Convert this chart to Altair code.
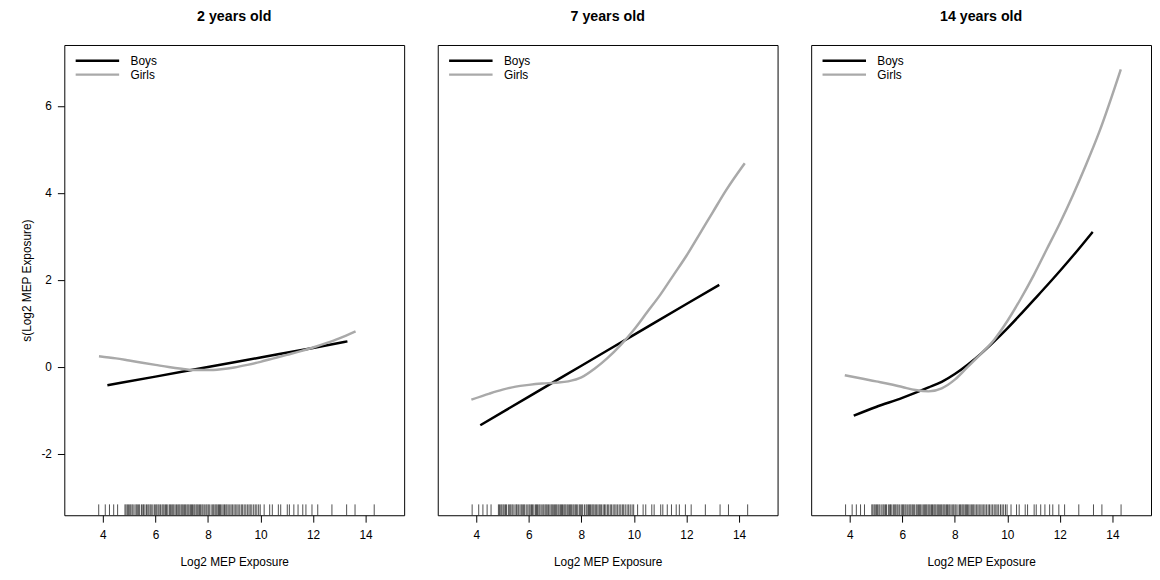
import altair as alt
import pandas as pd

panels = ["2 years old", "7 years old", "14 years old"]
sexes = ["Boys", "Girls"]

# Panel 1 (2 years old)
boys_x_p1 = [4.17, 6.0, 8.0, 10.0, 12.0, 13.31]
boys_y_p1 = [-0.43, -0.23, -0.01, 0.21, 0.43, 0.58]
girls_x_p1 = [3.85, 4.5, 5.0, 5.5, 6.0, 6.5, 7.0, 7.5, 8.0, 8.5, 9.0, 9.5, 10.0,
              10.5, 11.0, 11.5, 12.0, 12.5, 13.0, 13.62]
girls_y_p1 = [0.24, 0.19, 0.14, 0.09, 0.04, -0.01, -0.05, -0.08, -0.08, -0.06,
              -0.02, 0.04, 0.11, 0.19, 0.27, 0.35, 0.44, 0.54, 0.65, 0.81]

# Panel 2 (7 years old)
boys_x_p2 = [4.15, 6.0, 8.0, 10.0, 12.0, 13.25]
boys_y_p2 = [-1.35, -0.69, 0.02, 0.73, 1.44, 1.88]
girls_x_p2 = [3.81, 4.5, 5.0, 5.5, 6.0, 6.5, 7.0, 7.5, 8.0, 8.5, 9.0, 9.5, 10.0,
              10.5, 11.0, 11.5, 12.0, 12.5, 13.0, 13.5, 14.22]
girls_y_p2 = [-0.76, -0.62, -0.53, -0.46, -0.42, -0.39, -0.37, -0.34, -0.25,
              -0.05, 0.2, 0.5, 0.85, 1.25, 1.65, 2.1, 2.55, 3.05, 3.55, 4.05, 4.68]

# Panel 3 (14 years old)
boys_x_p3 = [4.15, 5.0, 6.0, 7.0, 7.5, 8.0, 8.5, 9.0, 9.5, 10.0, 10.5, 11.0,
             11.5, 12.0, 12.5, 13.25]
boys_y_p3 = [-1.13, -0.93, -0.72, -0.48, -0.35, -0.17, 0.05, 0.3, 0.58, 0.88,
             1.2, 1.53, 1.86, 2.2, 2.55, 3.1]
girls_x_p3 = [3.81, 4.5, 5.0, 5.5, 6.0, 6.5, 7.0, 7.5, 8.0, 8.5, 9.0, 9.5, 10.0,
              10.5, 11.0, 11.5, 12.0, 12.5, 13.0, 13.5, 14.32]
girls_y_p3 = [-0.2, -0.28, -0.34, -0.4, -0.47, -0.54, -0.57, -0.5, -0.3, 0.0,
              0.3, 0.62, 1.05, 1.55, 2.1, 2.7, 3.3, 3.95, 4.65, 5.4, 6.84]

# Rug of observed exposure values
rug_values = [3.84, 4.09, 4.25, 4.41, 4.56,
              4.84, 4.88, 4.93, 4.97, 5.02, 5.06, 5.11, 5.15, 5.22, 5.27, 5.31,
              5.36, 5.40, 5.47, 5.52, 5.55, 5.60, 5.66, 5.71, 5.75, 5.80, 5.84,
              5.90, 5.96, 6.01, 6.05, 6.10, 6.14, 6.19, 6.25, 6.29, 6.33, 6.38,
              6.42, 6.47, 6.53, 6.57, 6.62, 6.66, 6.70, 6.75, 6.80, 6.85, 6.89,
              6.93, 6.98, 7.02, 7.06, 7.11, 7.15, 7.20, 7.24, 7.28, 7.33, 7.37,
              7.41, 7.46, 7.50, 7.55, 7.59, 7.63, 7.68, 7.72, 7.77, 7.81, 7.86,
              7.92, 7.96, 8.01, 8.05, 8.12, 8.18, 8.22, 8.27, 8.31, 8.35, 8.40,
              8.44, 8.48, 8.53, 8.58, 8.63, 8.68, 8.72, 8.77, 8.83, 8.88, 8.93,
              8.99, 9.04, 9.10, 9.15, 9.21, 9.27, 9.32, 9.38, 9.44, 9.50, 9.56,
              9.61, 9.67, 9.74, 9.80, 9.86, 9.93, 9.99,
              10.14, 10.35, 10.45, 10.68, 10.77, 11.02, 11.1, 11.27, 11.43,
              11.61, 11.73, 11.96, 12.18, 12.72, 13.28, 13.60, 14.33]

x_ticks = [4, 6, 8, 10, 12, 14]
y_ticks = [-2, 0, 2, 4, 6]

series = {
    panels[0]: [(boys_x_p1, boys_y_p1), (girls_x_p1, girls_y_p1)],
    panels[1]: [(boys_x_p2, boys_y_p2), (girls_x_p2, girls_y_p2)],
    panels[2]: [(boys_x_p3, boys_y_p3), (girls_x_p3, girls_y_p3)],
}

rows = []
for p, pairs in series.items():
    for sex, (xs, ys) in zip(sexes, pairs):
        for xv, yv in zip(xs, ys):
            rows.append({"panel": p, "sex": sex, "x": xv, "y": yv})
df = pd.DataFrame(rows)
rug_df = pd.DataFrame({"x": rug_values})

W, H = 344, 476
FONT = "Liberation Sans"

x_scale = alt.Scale(domain=[2.53, 15.47], nice=False, zero=False)
y_scale = alt.Scale(domain=[-3.42, 7.40], nice=False, zero=False)
x_axis = alt.Axis(values=x_ticks, title="Log2 MEP Exposure", tickSize=7,
                  labelPadding=8, titlePadding=16, grid=False, domain=False,
                  tickColor="#000000", labelColor="#000000", titleColor="#000000",
                  labelFont=FONT, titleFont=FONT, labelFontSize=12,
                  titleFontSize=12, titleFontWeight="normal")
y_axis = alt.Axis(values=y_ticks, title="s(Log2 MEP Exposure)", tickSize=7,
                  labelPadding=6, titlePadding=8, labelAngle=0, grid=False,
                  labelExpr="datum.value + ''",
                  domain=False, tickColor="#000000", labelColor="#000000",
                  titleColor="#000000", labelFont=FONT, titleFont=FONT,
                  labelFontSize=12, titleFontSize=12, titleFontWeight="normal")

# wide horizontal stroke symbol: path spans 8 units -> 4 * sqrt(size) px
color = alt.Color(
    "sex:N",
    scale=alt.Scale(domain=sexes, range=["#000000", "#A9A9A9"]),
    legend=alt.Legend(
        title=None, orient="none", legendX=26.5, legendY=9,
        symbolType="M-4,0H4", symbolSize=121, symbolStrokeWidth=2.5,
        labelFontSize=12, labelFont=FONT, labelColor="#000000",
        labelOffset=26.5, rowPadding=1, padding=0,
    ),
)


def make_panel(i):
    p = panels[i]
    xenc = alt.X("x:Q", scale=x_scale, axis=x_axis)
    rug = alt.Chart(rug_df).mark_rule(color="#222222", strokeWidth=0.8).encode(
        x=xenc, y=alt.value(H - 11), y2=alt.value(H)
    )
    lines = alt.Chart(df[df.panel == p]).mark_line(
        strokeWidth=2.5, interpolate="monotone"
    ).encode(
        x=xenc,
        y=alt.Y("y:Q", scale=y_scale, axis=y_axis if i == 0 else None),
        color=color,
        order=alt.Order("x:Q"),
    )
    return alt.layer(rug, lines).properties(
        width=W, height=H,
        title=alt.Title(p, fontSize=14.4, fontWeight="bold", font=FONT,
                        anchor="middle", offset=21, color="#000000"),
    )


chart = alt.hconcat(
    make_panel(0), make_panel(1), make_panel(2), spacing=32
).resolve_legend(color="independent").properties(
    padding={"left": 11, "top": -3, "right": 0, "bottom": 0},
    background="white",
).configure_view(
    stroke="#000000", strokeWidth=1
)

chart.save("out.html", embed_options={"renderer": "svg", "actions": False})
